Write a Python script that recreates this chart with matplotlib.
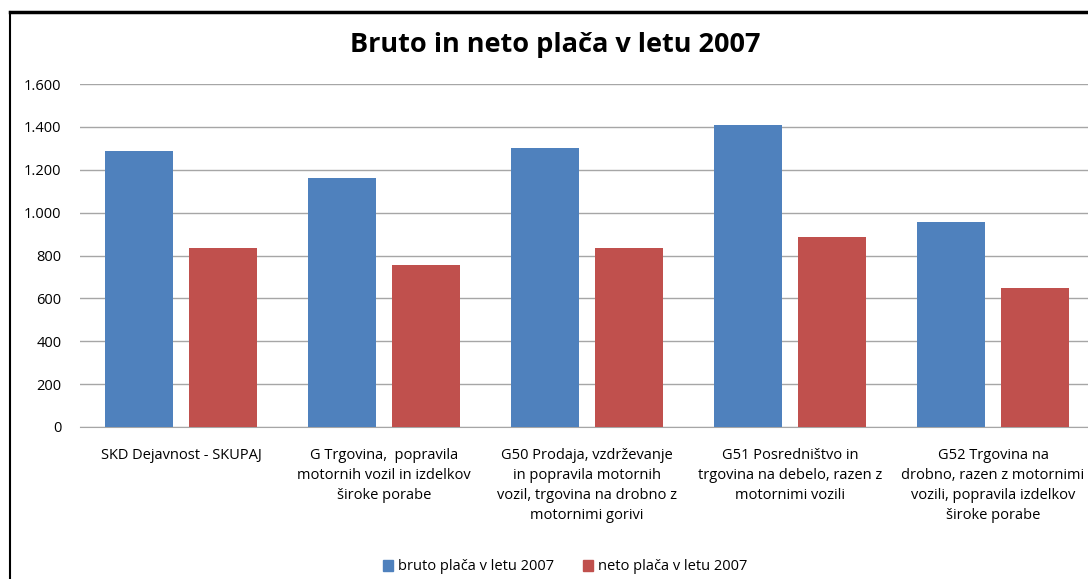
import numpy as np
import matplotlib.pyplot as plt
from matplotlib.ticker import FuncFormatter, MultipleLocator
from matplotlib.lines import Line2D
from matplotlib.patches import Patch

# podatki
kategorije = [
    'SKD Dejavnost - SKUPAJ',
    'G Trgovina,  popravila\nmotornih vozil in izdelkov\nširoke porabe',
    'G50 Prodaja, vzdrževanje\nin popravila motornih\nvozil, trgovina na drobno z\nmotornimi gorivi',
    'G51 Posredništvo in\ntrgovina na debelo, razen z\nmotornimi vozili',
    'G52 Trgovina na\ndrobno, razen z motornimi\nvozili, popravila izdelkov\nširoke porabe',
]
bruto = [1287, 1161, 1300, 1408, 955]
neto = [835, 757, 835, 886, 648]

modra = '#4f81bd'
rdeca = '#c0504d'

plt.rcParams['font.family'] = ['Open Sans', 'DejaVu Sans']

fig = plt.figure(figsize=(10.88, 5.79), dpi=100)

# okvir grafa
fig.add_artist(Line2D([10 / 1088, 10 / 1088], [0, 1 - 12 / 579], color='black', lw=1.5))
fig.add_artist(Line2D([10 / 1088, 1.0], [1 - 12 / 579, 1 - 12 / 579], color='black', lw=2.5))

ax = fig.add_axes([79.5 / 1088, 1 - 427 / 579, 1015 / 1088, 343 / 579])

x = np.arange(len(kategorije))
w = 0.335
ax.bar(x - 0.207, bruto, w, color=modra, label='bruto plača v letu 2007', zorder=3)
ax.bar(x + 0.207, neto, w, color=rdeca, label='neto plača v letu 2007', zorder=3)

ax.set_xlim(-0.5, len(kategorije) - 0.5)
ax.set_ylim(0, 1600)
ax.yaxis.set_major_locator(MultipleLocator(200))
ax.yaxis.set_major_formatter(FuncFormatter(lambda v, p: f'{int(v):,}'.replace(',', '.')))
ax.grid(axis='y', color='#a6a6a6', lw=1, zorder=0)
for s in ['top', 'right', 'left']:
    ax.spines[s].set_visible(False)
ax.spines['bottom'].set_color('#a6a6a6')

ax.set_xticks(x)
ax.set_xticklabels(kategorije, fontsize=10.5, linespacing=1.45)
ax.tick_params(axis='x', length=0, pad=15)
ax.tick_params(axis='y', length=0, pad=13, labelsize=10.5)

fig.text(555 / 1088, 1 - 45 / 579, 'Bruto in neto plača v letu 2007',
         ha='center', va='center', fontsize=19.5, fontweight='bold')

rocke = [Patch(color=modra), Patch(color=rdeca)]
fig.legend(rocke, ['bruto plača v letu 2007', 'neto plača v letu 2007'],
           loc='center', bbox_to_anchor=(565 / 1088, 1 - 567 / 579), ncol=2,
           frameon=False, fontsize=10.5, handlelength=0.7, handleheight=0.7,
           handletextpad=0.3, columnspacing=2.0)

fig.savefig('out.png', dpi=100)
